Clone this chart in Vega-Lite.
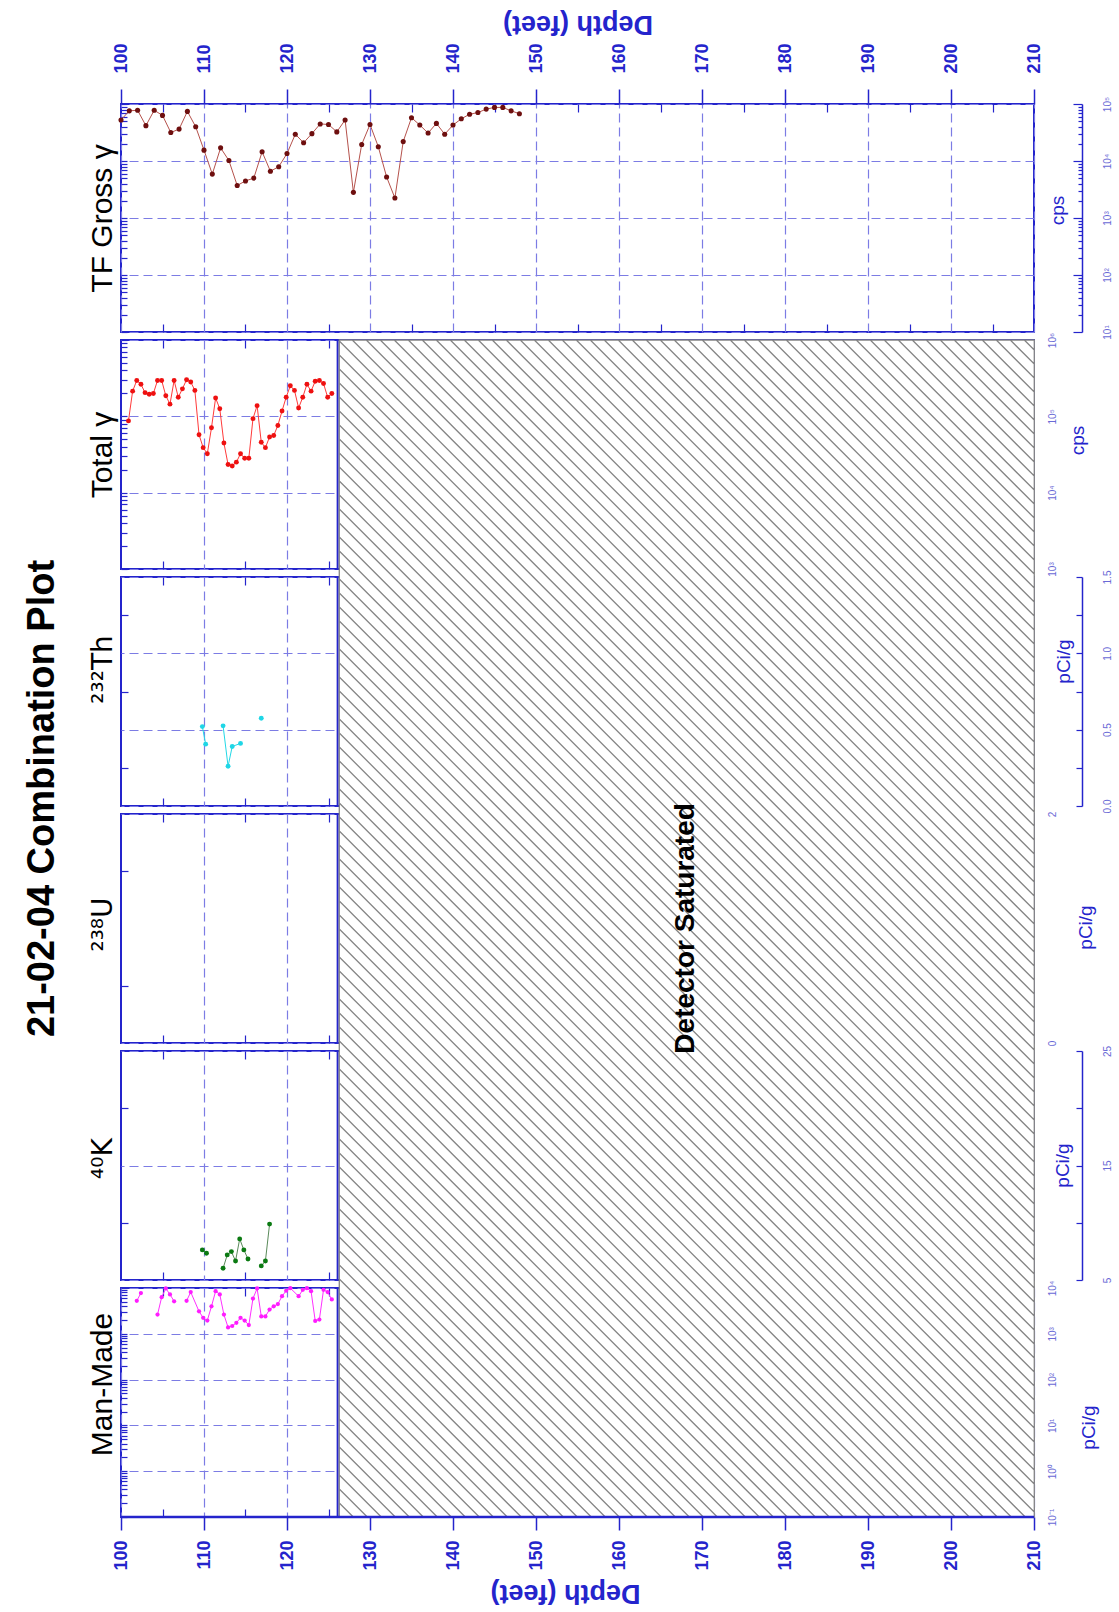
{
"$schema": "https://vega.github.io/schema/vega-lite/v6.json",
"background": "#ffffff",
"padding": {"left": 24, "top": 9, "right": 2, "bottom": 2},
"title": {"text": "21-02-04 Combination Plot", "orient": "left", "anchor": "middle", "fontSize": 38, "font": "Liberation Sans", "fontWeight": "bold", "color": "#000000", "offset": 24, "dx": 10},
"bounds": "flush",
"spacing": 8,
"config": {
  "font": "Liberation Sans",
  "view": {"stroke": "#2424cc", "strokeWidth": 2},
  "axis": {"labelFont": "Liberation Sans", "titleFont": "Liberation Sans", "labelFlush": false, "labelOverlap": false, "gridColor": "#7c7ce4", "gridDash": [9, 5], "gridWidth": 1.2, "gridOpacity": 1, "tickColor": "#2424cc", "tickWidth": 1.2, "domainColor": "#2424cc", "labelColor": "#2424cc", "titleColor": "#2424cc", "titleFontWeight": "normal", "labelFontWeight": "normal"}
},
"datasets": {
  "tf": [
    {"d": 100, "v": 52500}, {"d": 101, "v": 75900}, {"d": 102, "v": 77600}, {"d": 103, "v": 41700}, {"d": 104, "v": 77600},
    {"d": 105, "v": 63100}, {"d": 106, "v": 31600}, {"d": 107, "v": 36300}, {"d": 108, "v": 74100}, {"d": 109, "v": 39800},
    {"d": 110, "v": 15500}, {"d": 111, "v": 5890}, {"d": 112, "v": 17000}, {"d": 113, "v": 10200}, {"d": 114, "v": 3720},
    {"d": 115, "v": 4470}, {"d": 116, "v": 5010}, {"d": 117, "v": 14500}, {"d": 118, "v": 6610}, {"d": 119, "v": 7940},
    {"d": 120, "v": 13500}, {"d": 121, "v": 29500}, {"d": 122, "v": 20900}, {"d": 123, "v": 30200}, {"d": 124, "v": 44700},
    {"d": 125, "v": 43700}, {"d": 126, "v": 32400}, {"d": 127, "v": 52500}, {"d": 128, "v": 2820}, {"d": 129, "v": 19500},
    {"d": 130, "v": 43700}, {"d": 131, "v": 17800}, {"d": 132, "v": 5250}, {"d": 133, "v": 2240}, {"d": 134, "v": 21900},
    {"d": 135, "v": 57500}, {"d": 136, "v": 42700}, {"d": 137, "v": 30900}, {"d": 138, "v": 45700}, {"d": 139, "v": 29500},
    {"d": 140, "v": 42700}, {"d": 141, "v": 55000}, {"d": 142, "v": 66100}, {"d": 143, "v": 70800}, {"d": 144, "v": 81300},
    {"d": 145, "v": 87100}, {"d": 146, "v": 87100}, {"d": 147, "v": 75900}, {"d": 148, "v": 67600}
  ],
  "tot": [
    {"d": 100.9, "v": 87100}, {"d": 101.4, "v": 213800}, {"d": 101.9, "v": 295100}, {"d": 102.4, "v": 263000}, {"d": 102.9, "v": 204200},
    {"d": 103.4, "v": 195000}, {"d": 103.9, "v": 199500}, {"d": 104.4, "v": 295100}, {"d": 104.9, "v": 295100}, {"d": 105.4, "v": 186200},
    {"d": 105.9, "v": 144500}, {"d": 106.4, "v": 295100}, {"d": 106.9, "v": 177800}, {"d": 107.4, "v": 229100}, {"d": 107.9, "v": 302000},
    {"d": 108.4, "v": 281800}, {"d": 108.9, "v": 218800}, {"d": 109.4, "v": 57500}, {"d": 109.9, "v": 38900}, {"d": 110.4, "v": 32400},
    {"d": 110.9, "v": 70800}, {"d": 111.4, "v": 173800}, {"d": 111.9, "v": 125900}, {"d": 112.4, "v": 44700}, {"d": 112.9, "v": 23400},
    {"d": 113.4, "v": 22400}, {"d": 113.9, "v": 25100}, {"d": 114.4, "v": 32400}, {"d": 114.9, "v": 28200}, {"d": 115.4, "v": 28200},
    {"d": 115.9, "v": 93300}, {"d": 116.4, "v": 138000}, {"d": 116.9, "v": 45700}, {"d": 117.4, "v": 38900}, {"d": 117.9, "v": 53700},
    {"d": 118.4, "v": 56200}, {"d": 118.9, "v": 75900}, {"d": 119.4, "v": 117500}, {"d": 119.9, "v": 177800}, {"d": 120.4, "v": 251200},
    {"d": 120.9, "v": 218800}, {"d": 121.4, "v": 128800}, {"d": 121.9, "v": 177800}, {"d": 122.4, "v": 263000}, {"d": 122.9, "v": 213800},
    {"d": 123.4, "v": 288400}, {"d": 123.9, "v": 295100}, {"d": 124.4, "v": 269200}, {"d": 124.9, "v": 177800}, {"d": 125.4, "v": 199500}
  ],
  "th": [
    {"d": 109.8, "v": 0.52, "g": "a"}, {"d": 110.2, "v": 0.405, "g": "a"},
    {"d": 112.3, "v": 0.525, "g": "b"}, {"d": 112.9, "v": 0.26, "g": "b"}, {"d": 113.4, "v": 0.39, "g": "b"}, {"d": 114.4, "v": 0.41, "g": "b"},
    {"d": 116.9, "v": 0.575, "g": "c"}
  ],
  "k": [
    {"d": 109.8, "v": 7.63, "g": "a"}, {"d": 110.3, "v": 7.34, "g": "a"},
    {"d": 112.3, "v": 6.02, "g": "b"}, {"d": 112.8, "v": 7.19, "g": "b"}, {"d": 113.3, "v": 7.48, "g": "b"}, {"d": 113.8, "v": 6.66, "g": "b"},
    {"d": 114.3, "v": 8.59, "g": "b"}, {"d": 114.8, "v": 7.63, "g": "b"}, {"d": 115.3, "v": 6.84, "g": "b"},
    {"d": 116.9, "v": 6.23, "g": "c"}, {"d": 117.4, "v": 6.66, "g": "c"}, {"d": 117.9, "v": 9.88, "g": "c"}
  ],
  "mm": [
    {"d": 101.9, "v": 5250, "g": "a"}, {"d": 102.4, "v": 7760, "g": "a"},
    {"d": 104.4, "v": 2630, "g": "b"}, {"d": 104.9, "v": 6310, "g": "b"}, {"d": 105.4, "v": 9770, "g": "b"}, {"d": 105.9, "v": 7240, "g": "b"}, {"d": 106.4, "v": 5130, "g": "b"},
    {"d": 107.9, "v": 5250, "g": "c"}, {"d": 108.4, "v": 8130, "g": "c"}, {"d": 109.4, "v": 3090, "g": "c"}, {"d": 109.9, "v": 2240, "g": "c"},
    {"d": 110.4, "v": 1950, "g": "c"}, {"d": 110.9, "v": 3980, "g": "c"}, {"d": 111.4, "v": 8510, "g": "c"}, {"d": 111.9, "v": 7240, "g": "c"},
    {"d": 112.4, "v": 2630, "g": "c"}, {"d": 112.9, "v": 1380, "g": "c"}, {"d": 113.4, "v": 1480, "g": "c"}, {"d": 113.9, "v": 1740, "g": "c"},
    {"d": 114.4, "v": 2240, "g": "c"}, {"d": 114.9, "v": 1950, "g": "c"}, {"d": 115.4, "v": 1550, "g": "c"}, {"d": 115.9, "v": 5890, "g": "c"},
    {"d": 116.4, "v": 9770, "g": "c"}, {"d": 116.9, "v": 2400, "g": "c"}, {"d": 117.4, "v": 2400, "g": "c"}, {"d": 117.9, "v": 3390, "g": "c"},
    {"d": 118.4, "v": 3980, "g": "c"}, {"d": 118.9, "v": 4470, "g": "c"}, {"d": 119.4, "v": 6610, "g": "c"}, {"d": 119.9, "v": 8710, "g": "c"},
    {"d": 120.4, "v": 9900, "g": "c"}, {"d": 121.4, "v": 6610, "g": "c"}, {"d": 121.9, "v": 9120, "g": "c"}, {"d": 122.4, "v": 9900, "g": "c"},
    {"d": 122.9, "v": 8510, "g": "c"}, {"d": 123.4, "v": 1910, "g": "c"}, {"d": 123.9, "v": 2040, "g": "c"}, {"d": 124.4, "v": 9120, "g": "c"},
    {"d": 124.9, "v": 8130, "g": "c"}, {"d": 125.4, "v": 5620, "g": "c"}
  ]
},
"vconcat": [
  {
    "width": 913, "height": 228,
    "layer": [
      {"data": {"name": "tf"},
       "mark": {"type": "line", "color": "#b5524c", "strokeWidth": 1},
       "encoding": {
         "x": {"field": "d", "type": "quantitative", "scale": {"domain": [100, 210], "nice": false, "zero": false},
           "axis": {"orient": "top", "values": [100,110,120,130,140,150,160,170,180,190,200,210], "grid": true, "domain": false, "tickSize": 15, "tickWidth": 1.5, "labelAngle": 270, "labelAlign": "left", "labelBaseline": "middle", "labelPadding": 16, "labelFontSize": 18, "labelFontWeight": "bold", "title": "Depth (feet)", "titleAngle": 180, "titleAlign": "center", "titleBaseline": "top", "titlePadding": 6, "titleFontSize": 27, "titleFontWeight": "bold"}},
         "y": {"field": "v", "type": "quantitative", "scale": {"type": "log", "domain": [10, 100000], "nice": false},
           "axis": {"orient": "right", "offset": 48, "values": [10,100,1000,10000,100000], "grid": true, "ticks": false, "domain": true, "domainWidth": 1.5, "labelAngle": 270, "labelAlign": "center", "labelBaseline": "top", "labelPadding": 20, "labelFontSize": 10, "labelColor": "#6a6ad6", "labelExpr": "['10⁻¹','10⁰','10¹','10²','10³','10⁴','10⁵','10⁶'][round(log(datum.value)/LN10)+1]", "title": "cps", "titleAngle": 270, "titleAlign": "center", "titleBaseline": "middle", "titleX": -25, "titleY": 106, "titleFontSize": 19}}
       }},
      {"data": {"name": "tf"},
       "mark": {"type": "point", "filled": true, "color": "#6e0f0f", "size": 26, "opacity": 1},
       "encoding": {
         "x": {"field": "d", "type": "quantitative", "scale": {"domain": [100, 210], "nice": false, "zero": false},
           "axis": {"orient": "bottom", "values": [105,115,125,135,145,155,165,175,185,195,205], "tickSize": -8, "labels": false, "domain": false, "grid": false, "title": null}},
         "y": {"field": "v", "type": "quantitative", "scale": {"type": "log", "domain": [10, 100000], "nice": false},
           "axis": {"orient": "left", "values": [10,20,30,40,50,60,70,80,90,100,200,300,400,500,600,700,800,900,1000,2000,3000,4000,5000,6000,7000,8000,9000,10000,20000,30000,40000,50000,60000,70000,80000,90000,100000], "tickSize": -6, "labels": false, "domain": false, "grid": false, "title": "TF Gross γ", "titleFontSize": 30, "titleColor": "#000000", "titleAngle": 270, "titleBaseline": "alphabetic", "titlePadding": 9}}
       }},
      {"data": {"values": [{}]},
       "mark": {"type": "point", "opacity": 0},
       "encoding": {
         "x": {"datum": 150, "type": "quantitative", "scale": {"domain": [100, 210], "nice": false, "zero": false},
           "axis": {"orient": "top", "values": [105,115,125,135,145,155,165,175,185,195,205], "tickSize": -8, "labels": false, "domain": false, "grid": false, "title": null}},
         "y": {"datum": 1000, "type": "quantitative", "scale": {"type": "log", "domain": [10, 100000], "nice": false},
           "axis": {"orient": "right", "offset": 48, "values": [20,30,40,50,60,70,80,90,200,300,400,500,600,700,800,900,2000,3000,4000,5000,6000,7000,8000,9000,20000,30000,40000,50000,60000,70000,80000,90000], "tickSize": -4, "labels": false, "domain": false, "grid": false, "title": null}}
       }},
      {"data": {"values": [{}]},
       "mark": {"type": "point", "opacity": 0},
       "encoding": {
         "x": {"datum": 150, "type": "quantitative", "scale": {"domain": [100, 210], "nice": false, "zero": false}, "axis": null},
         "y": {"datum": 1000, "type": "quantitative", "scale": {"type": "log", "domain": [10, 100000], "nice": false},
           "axis": {"orient": "right", "offset": 48, "values": [10,100,1000,10000,100000], "tickSize": -9, "labels": false, "domain": false, "grid": false, "title": null}}
       }}
    ],
    "resolve": {"axis": {"x": "independent", "y": "independent"}}
  },
  {
    "width": 913, "height": 229,
    "layer": [
      {"data": {"name": "tot"},
       "mark": {"type": "line", "color": "#ff3a3a", "strokeWidth": 1},
       "encoding": {
         "x": {"field": "d", "type": "quantitative", "scale": {"domain": [100, 210], "nice": false, "zero": false},
           "axis": {"orient": "bottom", "values": [110, 120], "grid": true, "ticks": false, "labels": false, "domain": false, "title": null}},
         "y": {"field": "v", "type": "quantitative", "scale": {"type": "log", "domain": [1000, 1000000], "nice": false},
           "axis": {"orient": "right", "values": [1000,10000,100000,1000000], "grid": true, "ticks": false, "domain": false, "labelAngle": 270, "labelAlign": "center", "labelBaseline": "top", "labelPadding": 13, "labelFontSize": 10, "labelColor": "#6a6ad6", "labelExpr": "['10⁻¹','10⁰','10¹','10²','10³','10⁴','10⁵','10⁶'][round(log(datum.value)/LN10)+1]", "title": "cps", "titleAngle": 270, "titleAlign": "center", "titleBaseline": "middle", "titleX": 43, "titleY": 100, "titleFontSize": 19}}
       }},
      {"data": {"name": "tot"},
       "mark": {"type": "point", "filled": true, "color": "#ee1010", "size": 24, "opacity": 1},
       "encoding": {
         "x": {"field": "d", "type": "quantitative", "scale": {"domain": [100, 210], "nice": false, "zero": false},
           "axis": {"orient": "bottom", "values": [105, 115, 125], "tickSize": -8, "labels": false, "domain": false, "grid": false, "title": null}},
         "y": {"field": "v", "type": "quantitative", "scale": {"type": "log", "domain": [1000, 1000000], "nice": false},
           "axis": {"orient": "left", "values": [1000,2000,3000,4000,5000,6000,7000,8000,9000,10000,20000,30000,40000,50000,60000,70000,80000,90000,100000,200000,300000,400000,500000,600000,700000,800000,900000,1000000], "tickSize": -6, "labels": false, "domain": false, "grid": false, "title": "Total γ", "titleFontSize": 30, "titleColor": "#000000", "titleAngle": 270, "titleBaseline": "alphabetic", "titlePadding": 9}}
       }},
      {"data": {"values": [{}]},
       "mark": {"type": "point", "opacity": 0},
       "encoding": {
         "x": {"datum": 110, "type": "quantitative", "scale": {"domain": [100, 210], "nice": false, "zero": false},
           "axis": {"orient": "top", "values": [105, 115, 125], "tickSize": -8, "labels": false, "domain": false, "grid": false, "title": null}},
         "y": {"datum": 10000, "type": "quantitative", "scale": {"type": "log", "domain": [1000, 1000000], "nice": false}, "axis": null}
       }},
      {"data": {"values": [{}]},
       "mark": {"type": "rule", "color": "#2424cc", "strokeWidth": 2},
       "encoding": {
         "x": {"datum": 126.1, "type": "quantitative", "scale": {"domain": [100, 210], "nice": false, "zero": false}, "axis": null}
       }}
    ],
    "resolve": {"axis": {"x": "independent", "y": "independent"}}
  },
  {
    "width": 913, "height": 229,
    "layer": [
      {"data": {"name": "th"},
       "mark": {"type": "line", "color": "#22d8e6", "strokeWidth": 1},
       "encoding": {
         "x": {"field": "d", "type": "quantitative", "scale": {"domain": [100, 210], "nice": false, "zero": false},
           "axis": {"orient": "bottom", "values": [110, 120], "grid": true, "ticks": false, "labels": false, "domain": false, "title": null}},
         "y": {"field": "v", "type": "quantitative", "scale": {"domain": [0, 1.5], "nice": false, "zero": false},
           "axis": {"orient": "right", "offset": 48, "values": [0, 0.5, 1, 1.5], "format": ".1f", "grid": true, "ticks": false, "domain": true, "domainWidth": 1.5, "labelAngle": 270, "labelAlign": "center", "labelBaseline": "top", "labelPadding": 20, "labelFontSize": 10, "labelColor": "#6a6ad6", "title": "pCi/g", "titleAngle": 270, "titleAlign": "center", "titleBaseline": "middle", "titleX": -19, "titleY": 84, "titleFontSize": 19}},
         "detail": {"field": "g", "type": "nominal"}
       }},
      {"data": {"name": "th"},
       "mark": {"type": "point", "filled": true, "color": "#1fd6e6", "size": 24, "opacity": 1},
       "encoding": {
         "x": {"field": "d", "type": "quantitative", "scale": {"domain": [100, 210], "nice": false, "zero": false},
           "axis": {"orient": "bottom", "values": [105, 115, 125], "tickSize": -8, "labels": false, "domain": false, "grid": false, "title": null}},
         "y": {"field": "v", "type": "quantitative", "scale": {"domain": [0, 1.5], "nice": false, "zero": false},
           "axis": {"orient": "left", "values": [0.25, 0.75, 1.25], "tickSize": -7, "labels": false, "domain": false, "grid": false, "title": "²³²Th", "titleFont": "DejaVu Sans", "titleFontSize": 28, "titleColor": "#000000", "titleAngle": 270, "titleBaseline": "alphabetic", "titlePadding": 9, "titleY": 92}}
       }},
      {"data": {"values": [{}]},
       "mark": {"type": "point", "opacity": 0},
       "encoding": {
         "x": {"datum": 110, "type": "quantitative", "scale": {"domain": [100, 210], "nice": false, "zero": false},
           "axis": {"orient": "top", "values": [105, 115, 125], "tickSize": -8, "labels": false, "domain": false, "grid": false, "title": null}},
         "y": {"datum": 0.5, "type": "quantitative", "scale": {"domain": [0, 1.5], "nice": false, "zero": false},
           "axis": {"orient": "right", "offset": 48, "values": [0, 0.25, 0.5, 0.75, 1, 1.25, 1.5], "tickSize": -6, "labels": false, "domain": false, "grid": false, "title": null}}
       }},
      {"data": {"values": [{}]},
       "mark": {"type": "rule", "color": "#2424cc", "strokeWidth": 2},
       "encoding": {
         "x": {"datum": 126.1, "type": "quantitative", "scale": {"domain": [100, 210], "nice": false, "zero": false}, "axis": null}
       }}
    ],
    "resolve": {"axis": {"x": "independent", "y": "independent"}}
  },
  {
    "width": 913, "height": 229,
    "layer": [
      {"data": {"values": [{}]},
       "mark": {"type": "point", "opacity": 0},
       "encoding": {
         "x": {"datum": 110, "type": "quantitative", "scale": {"domain": [100, 210], "nice": false, "zero": false},
           "axis": {"orient": "bottom", "values": [110, 120], "grid": true, "ticks": false, "labels": false, "domain": false, "title": null}},
         "y": {"datum": 1, "type": "quantitative", "scale": {"domain": [0, 2], "nice": false, "zero": false},
           "axis": {"orient": "right", "values": [0, 1, 2], "format": "d", "grid": true, "ticks": false, "domain": false, "labelAngle": 270, "labelAlign": "center", "labelBaseline": "top", "labelPadding": 13, "labelFontSize": 10, "labelColor": "#6a6ad6", "title": "pCi/g", "titleAngle": 270, "titleAlign": "center", "titleBaseline": "middle", "titleX": 51, "titleY": 113, "titleFontSize": 19}}
       }},
      {"data": {"values": [{}]},
       "mark": {"type": "point", "opacity": 0},
       "encoding": {
         "x": {"datum": 110, "type": "quantitative", "scale": {"domain": [100, 210], "nice": false, "zero": false},
           "axis": {"orient": "bottom", "values": [105, 115, 125], "tickSize": -8, "labels": false, "domain": false, "grid": false, "title": null}},
         "y": {"datum": 1, "type": "quantitative", "scale": {"domain": [0, 2], "nice": false, "zero": false},
           "axis": {"orient": "left", "values": [0.5, 1.5], "tickSize": -7, "labels": false, "domain": false, "grid": false, "title": "²³⁸U", "titleFont": "DejaVu Sans", "titleFontSize": 28, "titleColor": "#000000", "titleAngle": 270, "titleBaseline": "alphabetic", "titlePadding": 9, "titleY": 110}}
       }},
      {"data": {"values": [{}]},
       "mark": {"type": "point", "opacity": 0},
       "encoding": {
         "x": {"datum": 110, "type": "quantitative", "scale": {"domain": [100, 210], "nice": false, "zero": false},
           "axis": {"orient": "top", "values": [105, 115, 125], "tickSize": -8, "labels": false, "domain": false, "grid": false, "title": null}},
         "y": {"datum": 1, "type": "quantitative", "scale": {"domain": [0, 2], "nice": false, "zero": false}, "axis": null}
       }},
      {"data": {"values": [{}]},
       "mark": {"type": "rule", "color": "#2424cc", "strokeWidth": 2},
       "encoding": {
         "x": {"datum": 126.1, "type": "quantitative", "scale": {"domain": [100, 210], "nice": false, "zero": false}, "axis": null}
       }}
    ],
    "resolve": {"axis": {"x": "independent", "y": "independent"}}
  },
  {
    "width": 913, "height": 229,
    "layer": [
      {"data": {"name": "k"},
       "mark": {"type": "line", "color": "#5a8a5a", "strokeWidth": 1},
       "encoding": {
         "x": {"field": "d", "type": "quantitative", "scale": {"domain": [100, 210], "nice": false, "zero": false},
           "axis": {"orient": "bottom", "values": [110, 120], "grid": true, "ticks": false, "labels": false, "domain": false, "title": null}},
         "y": {"field": "v", "type": "quantitative", "scale": {"domain": [5, 25], "nice": false, "zero": false},
           "axis": {"orient": "right", "offset": 48, "values": [5, 15, 25], "format": "d", "grid": true, "ticks": false, "domain": true, "domainWidth": 1.5, "labelAngle": 270, "labelAlign": "center", "labelBaseline": "top", "labelPadding": 20, "labelFontSize": 10, "labelColor": "#6a6ad6", "title": "pCi/g", "titleAngle": 270, "titleAlign": "center", "titleBaseline": "middle", "titleX": -20, "titleY": 114, "titleFontSize": 19}},
         "detail": {"field": "g", "type": "nominal"}
       }},
      {"data": {"name": "k"},
       "mark": {"type": "point", "filled": true, "color": "#0b7a12", "size": 24, "opacity": 1},
       "encoding": {
         "x": {"field": "d", "type": "quantitative", "scale": {"domain": [100, 210], "nice": false, "zero": false},
           "axis": {"orient": "bottom", "values": [105, 115, 125], "tickSize": -8, "labels": false, "domain": false, "grid": false, "title": null}},
         "y": {"field": "v", "type": "quantitative", "scale": {"domain": [5, 25], "nice": false, "zero": false},
           "axis": {"orient": "left", "values": [10, 20], "tickSize": -7, "labels": false, "domain": false, "grid": false, "title": "⁴⁰K", "titleFont": "DejaVu Sans", "titleFontSize": 28, "titleColor": "#000000", "titleAngle": 270, "titleBaseline": "alphabetic", "titlePadding": 9, "titleY": 107}}
       }},
      {"data": {"values": [{}]},
       "mark": {"type": "point", "opacity": 0},
       "encoding": {
         "x": {"datum": 110, "type": "quantitative", "scale": {"domain": [100, 210], "nice": false, "zero": false},
           "axis": {"orient": "top", "values": [105, 115, 125], "tickSize": -8, "labels": false, "domain": false, "grid": false, "title": null}},
         "y": {"datum": 15, "type": "quantitative", "scale": {"domain": [5, 25], "nice": false, "zero": false},
           "axis": {"orient": "right", "offset": 48, "values": [5, 10, 15, 20, 25], "tickSize": -6, "labels": false, "domain": false, "grid": false, "title": null}}
       }},
      {"data": {"values": [{}]},
       "mark": {"type": "rule", "color": "#2424cc", "strokeWidth": 2},
       "encoding": {
         "x": {"datum": 126.1, "type": "quantitative", "scale": {"domain": [100, 210], "nice": false, "zero": false}, "axis": null}
       }}
    ],
    "resolve": {"axis": {"x": "independent", "y": "independent"}}
  },
  {
    "width": 913, "height": 229,
    "layer": [
      {"data": {"name": "mm"},
       "mark": {"type": "line", "color": "#ff30ff", "strokeWidth": 1},
       "encoding": {
         "x": {"field": "d", "type": "quantitative", "scale": {"domain": [100, 210], "nice": false, "zero": false},
           "axis": {"orient": "bottom", "values": [100,110,120,130,140,150,160,170,180,190,200,210], "grid": true, "domain": false, "tickSize": 13, "tickWidth": 1.5, "labelAngle": 270, "labelAlign": "right", "labelBaseline": "middle", "labelPadding": 10, "labelFontSize": 18, "labelFontWeight": "bold", "title": "Depth (feet)", "titleAngle": 180, "titleAlign": "center", "titleBaseline": "bottom", "titlePadding": 8, "titleFontSize": 27, "titleFontWeight": "bold", "titleX": 444}},
         "y": {"field": "v", "type": "quantitative", "scale": {"type": "log", "domain": [0.1, 10000], "nice": false},
           "axis": {"orient": "right", "values": [0.1, 1, 10, 100, 1000, 10000], "grid": true, "ticks": false, "domain": false, "labelAngle": 270, "labelAlign": "center", "labelBaseline": "top", "labelPadding": 13, "labelFontSize": 10, "labelColor": "#6a6ad6", "labelExpr": "['10⁻¹','10⁰','10¹','10²','10³','10⁴','10⁵','10⁶'][round(log(datum.value)/LN10)+1]", "title": "pCi/g", "titleAngle": 270, "titleAlign": "center", "titleBaseline": "middle", "titleX": 54, "titleY": 139, "titleFontSize": 19}},
         "detail": {"field": "g", "type": "nominal"}
       }},
      {"data": {"name": "mm"},
       "mark": {"type": "point", "filled": true, "color": "#ff1cff", "size": 18, "opacity": 1},
       "encoding": {
         "x": {"field": "d", "type": "quantitative", "scale": {"domain": [100, 210], "nice": false, "zero": false},
           "axis": {"orient": "bottom", "values": [105, 115, 125], "tickSize": -8, "labels": false, "domain": false, "grid": false, "title": null}},
         "y": {"field": "v", "type": "quantitative", "scale": {"type": "log", "domain": [0.1, 10000], "nice": false},
           "axis": {"orient": "left", "values": [0.1,0.2,0.3,0.4,0.5,0.6,0.7,0.8,0.9,1,2,3,4,5,6,7,8,9,10,20,30,40,50,60,70,80,90,100,200,300,400,500,600,700,800,900,1000,2000,3000,4000,5000,6000,7000,8000,9000,10000], "tickSize": -6, "labels": false, "domain": false, "grid": false, "title": "Man-Made", "titleFontSize": 30, "titleColor": "#000000", "titleAngle": 270, "titleBaseline": "alphabetic", "titlePadding": 9, "titleY": 96}}
       }},
      {"data": {"values": [{}]},
       "mark": {"type": "point", "opacity": 0},
       "encoding": {
         "x": {"datum": 110, "type": "quantitative", "scale": {"domain": [100, 210], "nice": false, "zero": false},
           "axis": {"orient": "top", "values": [105, 115, 125], "tickSize": -8, "labels": false, "domain": false, "grid": false, "title": null}},
         "y": {"datum": 10, "type": "quantitative", "scale": {"type": "log", "domain": [0.1, 10000], "nice": false}, "axis": null}
       }},
      {"data": {"values": [{}]},
       "mark": {"type": "rule", "color": "#2424cc", "strokeWidth": 2},
       "encoding": {
         "x": {"datum": 126.1, "type": "quantitative", "scale": {"domain": [100, 210], "nice": false, "zero": false}, "axis": null}
       }},
      {"data": {"values": [{}]},
       "mark": {"type": "point", "filled": true, "size": 4, "fill": "#ffffff", "stroke": "#858585", "strokeWidth": 1.3, "opacity": 1, "fillOpacity": 1, "strokeOpacity": 1,
         "shape": "M0,0L695,0L695,-1177L0,-1177ZM0,-14l14,14M0,-28l28,28M0,-42l42,42M0,-56l56,56M0,-70l70,70M0,-84l84,84M0,-98l98,98M0,-112l112,112M0,-126l126,126M0,-140l140,140M0,-154l154,154M0,-168l168,168M0,-182l182,182M0,-196l196,196M0,-210l210,210M0,-224l224,224M0,-238l238,238M0,-252l252,252M0,-266l266,266M0,-280l280,280M0,-294l294,294M0,-308l308,308M0,-322l322,322M0,-336l336,336M0,-350l350,350M0,-364l364,364M0,-378l378,378M0,-392l392,392M0,-406l406,406M0,-420l420,420M0,-434l434,434M0,-448l448,448M0,-462l462,462M0,-476l476,476M0,-490l490,490M0,-504l504,504M0,-518l518,518M0,-532l532,532M0,-546l546,546M0,-560l560,560M0,-574l574,574M0,-588l588,588M0,-602l602,602M0,-616l616,616M0,-630l630,630M0,-644l644,644M0,-658l658,658M0,-672l672,672M0,-686l686,686M0,-700l695,695M0,-714l695,695M0,-728l695,695M0,-742l695,695M0,-756l695,695M0,-770l695,695M0,-784l695,695M0,-798l695,695M0,-812l695,695M0,-826l695,695M0,-840l695,695M0,-854l695,695M0,-868l695,695M0,-882l695,695M0,-896l695,695M0,-910l695,695M0,-924l695,695M0,-938l695,695M0,-952l695,695M0,-966l695,695M0,-980l695,695M0,-994l695,695M0,-1008l695,695M0,-1022l695,695M0,-1036l695,695M0,-1050l695,695M0,-1064l695,695M0,-1078l695,695M0,-1092l695,695M0,-1106l695,695M0,-1120l695,695M0,-1134l695,695M0,-1148l695,695M0,-1162l695,695M0,-1176l695,695M13,-1177l682,682M27,-1177l668,668M41,-1177l654,654M55,-1177l640,640M69,-1177l626,626M83,-1177l612,612M97,-1177l598,598M111,-1177l584,584M125,-1177l570,570M139,-1177l556,556M153,-1177l542,542M167,-1177l528,528M181,-1177l514,514M195,-1177l500,500M209,-1177l486,486M223,-1177l472,472M237,-1177l458,458M251,-1177l444,444M265,-1177l430,430M279,-1177l416,416M293,-1177l402,402M307,-1177l388,388M321,-1177l374,374M335,-1177l360,360M349,-1177l346,346M363,-1177l332,332M377,-1177l318,318M391,-1177l304,304M405,-1177l290,290M419,-1177l276,276M433,-1177l262,262M447,-1177l248,248M461,-1177l234,234M475,-1177l220,220M489,-1177l206,206M503,-1177l192,192M517,-1177l178,178M531,-1177l164,164M545,-1177l150,150M559,-1177l136,136M573,-1177l122,122M587,-1177l108,108M601,-1177l94,94M615,-1177l80,80M629,-1177l66,66M643,-1177l52,52M657,-1177l38,38M671,-1177l24,24M685,-1177l10,10"},
       "encoding": {
         "x": {"datum": 126.3, "type": "quantitative", "scale": {"domain": [100, 210], "nice": false, "zero": false}, "axis": null},
         "y": {"datum": 0.1, "type": "quantitative", "scale": {"type": "log", "domain": [0.1, 10000], "nice": false}, "axis": null}
       }},
      {"data": {"values": [{}]},
       "mark": {"type": "text", "text": "Detector Saturated", "angle": 270, "fontSize": 28, "fontWeight": "bold", "font": "Liberation Sans", "color": "#000000", "align": "center", "baseline": "middle"},
       "encoding": {
         "x": {"datum": 168.1, "type": "quantitative", "scale": {"domain": [100, 210], "nice": false, "zero": false}, "axis": null},
         "y": {"datum": 710000000000, "type": "quantitative", "scale": {"type": "log", "domain": [0.1, 10000], "nice": false}, "axis": null}
       }},
      {"data": {"values": [{}]},
       "mark": {"type": "rule", "color": "#2424cc", "strokeWidth": 2.5},
       "encoding": {
         "y": {"datum": 0.1, "type": "quantitative", "scale": {"type": "log", "domain": [0.1, 10000], "nice": false}, "axis": null}
       }}
    ],
    "resolve": {"axis": {"x": "independent", "y": "independent"}}
  }
]
}
